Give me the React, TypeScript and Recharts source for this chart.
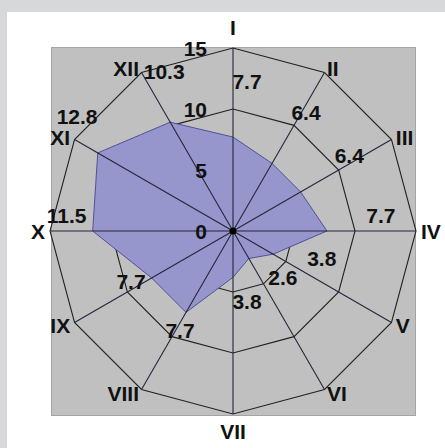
import React from 'react';
import { RadarChart, Radar, PolarGrid, PolarAngleAxis, PolarRadiusAxis } from 'recharts';

const categories = ['I', 'II', 'III', 'IV', 'V', 'VI', 'VII', 'VIII', 'IX', 'X', 'XI', 'XII'];
const values = [7.7, 6.4, 6.4, 7.7, 3.8, 2.6, 3.8, 7.7, 7.7, 11.5, 12.8, 10.3];
const radiusTicks = [0, 5, 10, 15];

const data = categories.map((name, i) => ({ name, value: values[i] }));

const CX = 233;
const CY = 231;
const R = 183;
const FONT = '"Liberation Sans", Arial, sans-serif';
const FS = 21;

// tick lines run inward to the centre (they are the spokes), so place the names ourselves
const AngleTick = (props: any) => {
  const { payload, index } = props;
  const angle = payload?.coordinate ?? 90 - index * 30;
  const rad = (angle * Math.PI) / 180;
  const c = Math.cos(rad);
  const x = CX + c * (R + 5);
  let y = CY - Math.sin(rad) * (R + 5);
  const anchor = c > 1e-5 ? 'start' : c < -1e-5 ? 'end' : 'middle';
  if (anchor === 'middle') y += y < CY ? -16 : 12;
  return (
    <text x={x} y={y} textAnchor={anchor} dominantBaseline="central"
      fontFamily={FONT} fontWeight="bold" fontSize={FS} fill="#111">
      {payload.value}
    </text>
  );
};

const RadiusTick = (props: any) => {
  const { x, y, payload } = props;
  return (
    <text x={x - 26} y={y} textAnchor="end" dominantBaseline="central"
      fontFamily={FONT} fontWeight="bold" fontSize={FS} fill="#111">
      {payload.value}
    </text>
  );
};

// value labels pushed out from each point
const ValueLabel = (props: any) => {
  const { cx, cy, index, payload } = props;
  const angle = payload?.angle ?? 90 - index * 30;
  const rad = (angle * Math.PI) / 180;
  const lx = cx + Math.cos(rad) * 40 + 14;
  const ly = cy - Math.sin(rad) * 40 - 16;
  return (
    <g key={`lbl-${index}`}>
      <text x={lx} y={ly} textAnchor="middle" dominantBaseline="central"
        fontFamily={FONT} fontWeight="bold" fontSize={FS} fill="#111">
        {payload.value}
      </text>
    </g>
  );
};

export default function App() {
  return (
    <div style={{ position: 'fixed', left: 0, top: 0, width: 445, height: 448, background: '#d7d8da', overflow: 'hidden' }}>
      <div style={{ position: 'absolute', left: 7, top: 12, right: 0, bottom: 0, background: '#fff' }} />
      <div style={{ position: 'absolute', left: 51, top: 47, width: 363, height: 367, background: '#c0c0c0', border: '1px solid #a4a4a4' }} />
      <div style={{ position: 'absolute', left: 0, top: 0 }}>
        <RadarChart width={445} height={448} data={data} cx={CX} cy={CY} outerRadius={R}
          margin={{ top: 0, right: 0, bottom: 0, left: 0 }}>
          <PolarGrid gridType="polygon" radialLines={false} stroke="#222" strokeWidth={1.1} />
          <PolarAngleAxis dataKey="name" tick={<AngleTick />} orientation="inner" tickSize={R}
            tickLine={{ stroke: '#25253a', strokeWidth: 1.1 }} axisLine={false} />
          <Radar dataKey="value" stroke="#50509a" strokeWidth={1} fill="#9696cd" fillOpacity={1}
            dot={ValueLabel} isAnimationActive={false} />
          <PolarRadiusAxis angle={90} domain={[0, 15]} ticks={radiusTicks} tickCount={4}
            axisLine={false} tick={<RadiusTick />} />
        </RadarChart>
      </div>
      <svg width={445} height={448} style={{ position: 'absolute', left: 0, top: 0, pointerEvents: 'none' }}>
        <circle cx={CX} cy={CY} r={3.5} fill="#000" />
      </svg>
    </div>
  );
}
